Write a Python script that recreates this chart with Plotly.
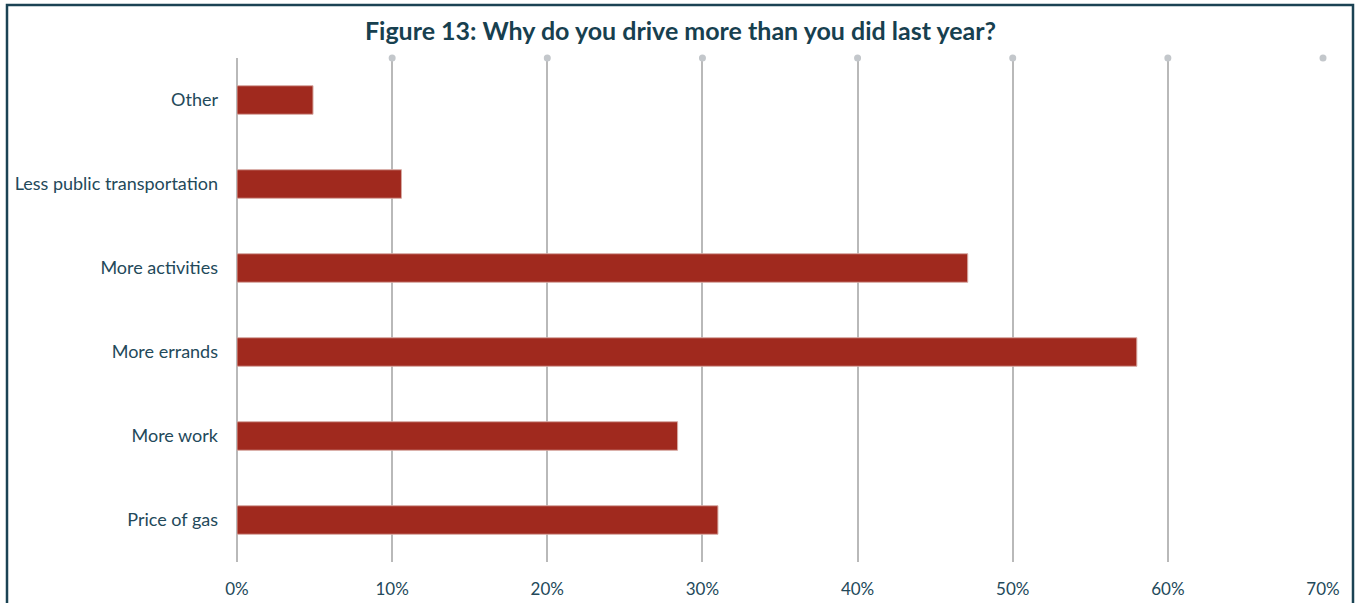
import plotly.graph_objects as go

# Survey responses: reasons for driving more than last year
reasons = ["Other", "Less public transportation", "More activities",
           "More errands", "More work", "Price of gas"]
shares = [4.9, 10.6, 47.1, 58.0, 28.4, 31.0]  # percent of respondents
tick_vals = [0, 10, 20, 30, 40, 50, 60, 70]
tick_text = ["0%", "10%", "20%", "30%", "40%", "50%", "60%", "70%"]

BAR = "#A0291E"
GRID = "#b9b9b9"
TEXT = "#23495a"
FRAME = "#1b4354"
FONT = "Source Sans Pro, Lato, Noto Sans, sans-serif"

fig = go.Figure()

fig.add_trace(go.Bar(
    x=shares, y=reasons, orientation="h",
    marker=dict(color=BAR, line=dict(color="#d7aaa3", width=1)),
    hoverinfo="x+y", showlegend=False,
))

# Round caps on top of each gridline
fig.add_trace(go.Scatter(
    x=tick_vals[1:], y=[1] * (len(tick_vals) - 1), yaxis="y2",
    mode="markers", marker=dict(color="#c3c7cb", size=7),
    cliponaxis=False, hoverinfo="skip", showlegend=False,
))

W, H = 1361, 603
L, R, T, B = 237, 38, 58, 41
pw, ph = W - L - R, H - T - B

def px_x(v):
    return (v - L) / pw

def px_y(v):
    return (H - B - v) / ph

fig.update_layout(
    width=W, height=H,
    margin=dict(l=L, r=R, t=T, b=B),
    paper_bgcolor="white", plot_bgcolor="white",
    font=dict(family=FONT, color=TEXT, size=18),
    bargap=0.66,
    title=dict(
        text="<b>Figure 13: Why do you drive more than you did last year?</b>",
        x=0.5, xref="container", xanchor="center",
        y=1 - 31 / H, yanchor="middle", yref="container",
        font=dict(family=FONT, size=25, color="#17404f"),
    ),
    xaxis=dict(
        range=[0, 70], tickvals=tick_vals, ticktext=tick_text,
        showgrid=True, gridcolor=GRID, gridwidth=1.5,
        zeroline=True, zerolinecolor=GRID, zerolinewidth=1.5,
        showline=False, ticks="", ticklabelstandoff=15,
        tickfont=dict(size=17, color=TEXT), fixedrange=True,
        automargin=False,
    ),
    yaxis=dict(
        categoryorder="array", categoryarray=reasons,
        autorange="reversed", showgrid=False, zeroline=False,
        showline=False, ticks="", ticklabelstandoff=18,
        tickfont=dict(size=18, color=TEXT), fixedrange=True,
        automargin=False,
    ),
    yaxis2=dict(overlaying="y", range=[0, 1], visible=False,
                fixedrange=True, automargin=False),
    shapes=[dict(
        type="rect", xref="paper", yref="paper",
        x0=px_x(7), x1=px_x(1353), y0=px_y(640), y1=px_y(5),
        line=dict(color=FRAME, width=2.5), fillcolor="rgba(0,0,0,0)",
        layer="above",
    )],
)

fig.write_html("out.html")
